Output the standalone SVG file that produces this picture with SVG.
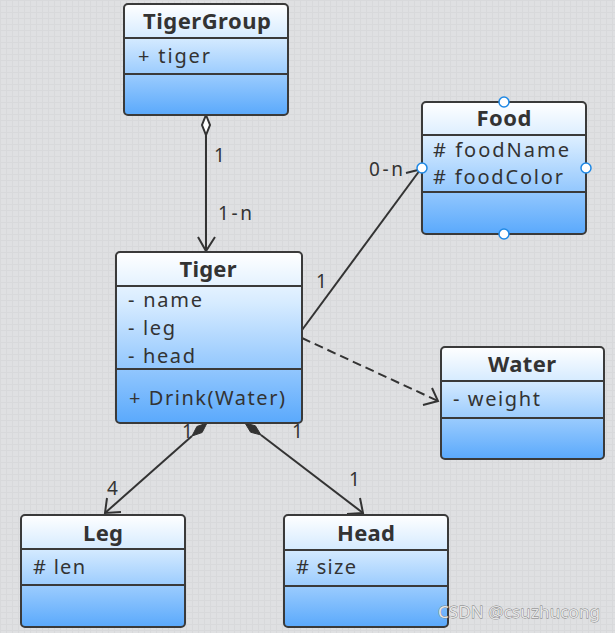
<svg xmlns="http://www.w3.org/2000/svg" width="615" height="633" viewBox="0 0 615 633">
<defs>
<linearGradient id="boxg" x1="0" y1="0" x2="0" y2="1">
<stop offset="0" stop-color="#ffffff"/>
<stop offset="0.3" stop-color="#d6ebff"/>
<stop offset="1" stop-color="#5aa9fc"/>
</linearGradient>
<pattern id="grid" width="6" height="6" patternUnits="userSpaceOnUse">
<rect width="6" height="6" fill="#dfe0e2"/>
<path d="M0 0.5H6M0.5 0V6" stroke="#d8d9db" stroke-width="1"/>
</pattern>
<style>
.box{fill:url(#boxg);stroke:#3a3a3a;stroke-width:2}
.div{stroke:#3a3a3a;stroke-width:2}
.t{font-family:"Noto Sans","Open Sans",sans-serif;font-size:22px;font-weight:bold;fill:#333;text-anchor:middle}
.a{font-family:"Noto Sans","Open Sans",sans-serif;font-size:20px;fill:#333}
.l{font-family:"Noto Sans","Open Sans",sans-serif;font-size:19px;fill:#333}
.c{fill:none;stroke:#333;stroke-width:2}
.h{fill:#fff;stroke:#1e88e5;stroke-width:1.5}
</style>
</defs>
<rect width="615" height="633" fill="url(#grid)"/>
<g id="connectors">
<line class="c" x1="206" y1="135" x2="206" y2="251"/>
<polygon points="206,115 210,125 206,135 202,125" fill="#fff" stroke="#333" stroke-width="2"/>
<polyline class="c" points="198,237 206,251 215,237"/>
<text class="l" x="214" y="162">1</text>
<text class="l" x="218" y="220" textLength="34" lengthAdjust="spacing">1-n</text>
<line class="c" x1="302" y1="330" x2="420" y2="170"/>
<line class="c" x1="406" y1="173" x2="418" y2="170" stroke-width="1.5"/>
<text class="l" x="369" y="176" textLength="34" lengthAdjust="spacing">0-n</text>
<text class="l" x="316" y="288">1</text>
<line class="c" x1="302" y1="338" x2="438" y2="401" stroke-dasharray="9,5"/>
<polyline class="c" points="432,388 438,401 423,405"/>
<line class="c" x1="192" y1="436" x2="105" y2="513"/>
<polygon points="207,423 202.1,432.5 192,436 196.9,426.5" fill="#333" stroke="#333" stroke-width="1"/>
<polyline class="c" points="107,498 105,513 121,512"/>
<text class="l" x="107" y="495">4</text>
<text class="l" x="182" y="438">1</text>
<line class="c" x1="261" y1="435" x2="363" y2="513"/>
<polygon points="245,423 255.4,425.8 261,435 250.6,432.2" fill="#333" stroke="#333" stroke-width="1"/>
<polyline class="c" points="360,498 363,513 347,514"/>
<text class="l" x="349" y="486">1</text>
<text class="l" x="292" y="438">1</text>
</g>
<g id="TigerGroup">
<rect class="box" x="124" y="4" width="164" height="111" rx="4"/>
<line class="div" x1="124" y1="38" x2="288" y2="38"/>
<line class="div" x1="124" y1="74" x2="288" y2="74"/>
<text class="t" x="207" y="29" textLength="128" lengthAdjust="spacing">TigerGroup</text>
<text class="a" x="138" y="63" textLength="72" lengthAdjust="spacing">+ tiger</text>
</g>
<g id="Food">
<rect class="box" x="422" y="102" width="164" height="132" rx="4"/>
<line class="div" x1="422" y1="135" x2="586" y2="135"/>
<line class="div" x1="422" y1="192" x2="586" y2="192"/>
<text class="t" x="504" y="126" textLength="55" lengthAdjust="spacing">Food</text>
<text class="a" x="433" y="157" textLength="136" lengthAdjust="spacing"># foodName</text>
<text class="a" x="433" y="184" textLength="130" lengthAdjust="spacing"># foodColor</text>
<circle class="h" cx="504" cy="102" r="5"/>
<circle class="h" cx="422" cy="168" r="5"/>
<circle class="h" cx="586" cy="168" r="5"/>
<circle class="h" cx="504" cy="234" r="5"/>
</g>
<g id="Tiger">
<rect class="box" x="116" y="252" width="186" height="171" rx="4"/>
<line class="div" x1="116" y1="286" x2="302" y2="286"/>
<line class="div" x1="116" y1="369" x2="302" y2="369"/>
<text class="t" x="208" y="277" textLength="57" lengthAdjust="spacing">Tiger</text>
<text class="a" x="128" y="307" textLength="74" lengthAdjust="spacing">- name</text>
<text class="a" x="128" y="335" textLength="47" lengthAdjust="spacing">- leg</text>
<text class="a" x="128" y="363" textLength="67" lengthAdjust="spacing">- head</text>
<text class="a" x="129" y="405" textLength="156" lengthAdjust="spacing">+ Drink(Water)</text>
</g>
<g id="Water">
<rect class="box" x="441" y="347" width="163" height="112" rx="4"/>
<line class="div" x1="441" y1="381" x2="604" y2="381"/>
<line class="div" x1="441" y1="418" x2="604" y2="418"/>
<text class="t" x="522" y="372" textLength="68" lengthAdjust="spacing">Water</text>
<text class="a" x="453" y="406" textLength="87" lengthAdjust="spacing">- weight</text>
</g>
<g id="Leg">
<rect class="box" x="21" y="515" width="164" height="112" rx="4"/>
<line class="div" x1="21" y1="549" x2="185" y2="549"/>
<line class="div" x1="21" y1="585" x2="185" y2="585"/>
<text class="t" x="103" y="541" textLength="40" lengthAdjust="spacing">Leg</text>
<text class="a" x="33" y="574" textLength="52" lengthAdjust="spacing"># len</text>
</g>
<g id="Head">
<rect class="box" x="284" y="515" width="164" height="112" rx="4"/>
<line class="div" x1="284" y1="550" x2="448" y2="550"/>
<line class="div" x1="284" y1="586" x2="448" y2="586"/>
<text class="t" x="366" y="541" textLength="58" lengthAdjust="spacing">Head</text>
<text class="a" x="296" y="574" textLength="60" lengthAdjust="spacing"># size</text>
</g>
<text x="438" y="618" font-family="Noto Sans, sans-serif" font-size="17" fill="#e6e6e6" stroke="#7a7a7a" stroke-width="0.8" paint-order="stroke" textLength="162" lengthAdjust="spacing">CSDN @csuzhucong</text>
</svg>
